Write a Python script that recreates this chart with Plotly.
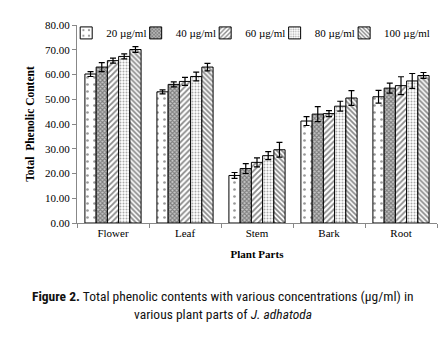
import plotly.graph_objects as go

parts = ["Flower", "Leaf", "Stem", "Bark", "Root"]
conc_labels = ["20 µg/ml", "40 µg/ml", "60 µg/ml", "80 µg/ml", "100 µg/ml"]
vals_20 = [60.2, 53.0, 19.2, 41.2, 51.0]
vals_40 = [63.0, 56.0, 22.0, 44.0, 54.5]
vals_60 = [65.6, 57.2, 24.5, 44.2, 55.5]
vals_80 = [67.3, 59.2, 27.2, 47.2, 57.4]
vals_100 = [70.1, 63.0, 29.6, 50.5, 59.6]
err_20 = [1.0, 0.8, 1.2, 1.8, 2.6]
err_40 = [1.8, 1.0, 2.0, 3.0, 2.0]
err_60 = [1.0, 1.6, 1.8, 1.2, 3.6]
err_80 = [1.0, 1.8, 1.6, 2.0, 3.0]
err_100 = [1.2, 1.5, 3.0, 3.0, 1.2]

series = [vals_20, vals_40, vals_60, vals_80, vals_100]
errors = [err_20, err_40, err_60, err_80, err_100]
patterns = [
    dict(shape=".", size=7, solidity=0.12, fgcolor="#333333", bgcolor="white"),
    dict(shape="x", size=3, solidity=0.6, fgcolor="#333333", bgcolor="#c8c8c8"),
    dict(shape="/", size=4, solidity=0.45, fgcolor="#111111", bgcolor="white"),
    dict(shape=".", size=3, solidity=0.35, fgcolor="#555555", bgcolor="white"),
    dict(shape="\\", size=3.5, solidity=0.5, fgcolor="#111111", bgcolor="white"),
]
legend_ids = ["legend", "legend2", "legend3", "legend4", "legend5"]
legend_x = [-0.03, 0.163, 0.356, 0.549, 0.742]

serif = "Liberation Serif, Times New Roman, serif"
fig = go.Figure()
for name, v, e, p, lg in zip(conc_labels, series, errors, patterns, legend_ids):
    fig.add_trace(go.Bar(
        x=parts, y=v, name=name, legend=lg,
        marker=dict(color="white", line=dict(color="black", width=1), pattern=p),
        error_y=dict(type="data", array=e, color="black", thickness=1.2, width=3),
    ))

legend_layout = {}
for lg, lx in zip(legend_ids, legend_x):
    legend_layout[lg] = dict(x=lx, y=0.96, xanchor="left", yanchor="middle",
                             font=dict(family=serif, size=11),
                             bgcolor="rgba(0,0,0,0)", itemwidth=30)

fig.update_layout(
    width=443, height=351,
    margin=dict(l=77, r=6, t=25, b=128),
    paper_bgcolor="white", plot_bgcolor="white",
    barmode="group", bargap=0.22, bargroupgap=0,
    font=dict(family=serif, size=11, color="black"),
    showlegend=True,
    **legend_layout,
)
fig.update_yaxes(range=[0, 80], tickvals=[0, 10, 20, 30, 40, 50, 60, 70, 80],
                 tickformat=".2f", showgrid=False, showline=True, linecolor="#888888",
                 linewidth=1, ticks="outside", ticklen=4, tickcolor="#888888",
                 tickfont=dict(family=serif, size=11),
                 title=dict(text="<b>Total  Phenolic Content</b>", font=dict(family=serif, size=11.5), standoff=8),
                 zeroline=False)
fig.update_xaxes(showgrid=False, showline=True, linecolor="#888888", linewidth=1,
                 ticks="outside", ticklen=4, tickcolor="#888888", tickson="boundaries",
                 tickfont=dict(family=serif, size=11),
                 title=dict(text="<b>Plant Parts</b>", font=dict(family=serif, size=11), standoff=12))

cap_font = dict(family="Liberation Sans Narrow, Roboto Condensed, Roboto, sans-serif", size=13.5, color="#111111")
fig.add_annotation(text="<b>Figure 2.</b> Total phenolic contents with various concentrations (µg/ml) in",
                   xref="paper", yref="paper", x=0.405, y=-0.369, showarrow=False,
                   xanchor="center", yanchor="middle", font=cap_font)
fig.add_annotation(text="various plant parts of <i>J. adhatoda</i>",
                   xref="paper", yref="paper", x=0.405, y=-0.46, showarrow=False,
                   xanchor="center", yanchor="middle", font=cap_font)

fig.write_html("out.html")
